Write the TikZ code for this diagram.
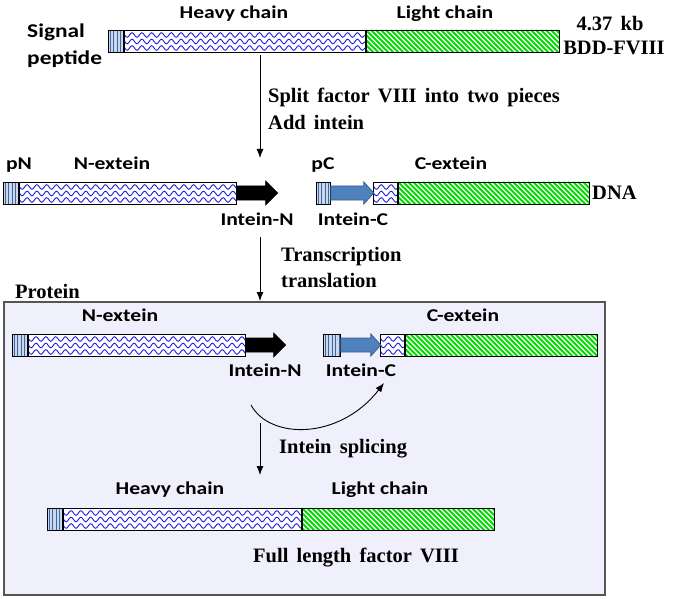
\documentclass[tikz,border=0pt]{standalone}
\usepackage{fontspec}
\setmainfont{Liberation Serif}[WordSpace=1.6]
\newfontfamily\calw[FakeStretch=1.2]{Carlito}
\usetikzlibrary{decorations.pathmorphing,arrows.meta}
\definecolor{spfill}{RGB}{198,217,241}
\definecolor{spline}{RGB}{70,100,150}
\definecolor{wave}{RGB}{30,30,225}
\definecolor{gstripe}{RGB}{0,220,0}
\definecolor{boxfill}{RGB}{240,240,252}
\definecolor{boxline}{RGB}{85,85,85}
\definecolor{ablue}{RGB}{79,129,189}
\definecolor{ablueline}{RGB}{56,93,138}
\tikzset{
 seg/.style={draw=black, line width=0.8pt, rectangle, inner sep=0pt, minimum height=22pt, anchor=west},
 sigpep/.style={seg, fill=spfill, path picture={
   \foreach \i in {1.5,5,...,30}
     \draw[spline, line width=0.6pt] ([xshift=\i pt]path picture bounding box.north west) -- ([xshift=\i pt]path picture bounding box.south west);}},
 wavy/.style={seg, fill=white, path picture={
   \foreach \r in {5,11.5,18}
     \draw[wave, line width=0.9pt, decorate, decoration={snake, segment length=9.8pt, amplitude=2.3pt}]
       ([xshift=-5pt,yshift=-\r pt]path picture bounding box.north west) -- ([xshift=5pt,yshift=-\r pt]path picture bounding box.north east);}},
 hatch/.style={seg, fill=white, path picture={
   \foreach \i in {-30,-25,...,200}
     \draw[gstripe, line width=2pt] ([xshift=\i pt]path picture bounding box.north west) -- ++(30pt,-30pt);}},
 inteinN/.style={fill=black, draw=black, line width=0.6pt},
 inteinC/.style={fill=ablue, draw=ablueline, line width=0.8pt},
 sl/.style={font=\calw\bfseries\fontsize{18}{20}\selectfont, inner sep=0pt, anchor=base},
 tl/.style={font=\bfseries\fontsize{20.5}{22}\selectfont, inner sep=0pt, anchor=base west},
 tc/.style={font=\bfseries\fontsize{20.5}{22}\selectfont, inner sep=0pt, anchor=base},
 conn/.style={line width=0.9pt, -{Latex[length=9pt,width=7pt]}},
 protbox/.style={draw=boxline, line width=1.8pt, fill=boxfill}
}
\begin{document}
\begin{tikzpicture}[x=1pt,y=-1pt]
\useasboundingbox (0,0) rectangle (675,599);
% protein box
\draw[protbox] (4,302) rectangle (605,595);

% Row 1
\node[sigpep, minimum width=15pt] (sp1) at (108,41) {};
\node[wavy, minimum width=241pt] (hc1) at (sp1.east) {};
\node[hatch, minimum width=193pt] (lc1) at (hc1.east) {};
\node[sl] (hc1t) at (234,19) {Heavy chain};
\node[sl] (lc1t) at (445,19) {Light chain};
\node[sl, anchor=base west, font=\calw\bfseries\fontsize{19.5}{21}\selectfont] (sig) at (27,38) {Signal};
\node[sl, anchor=base west, font=\calw\bfseries\fontsize{19.5}{21}\selectfont] (pep) at (27,65) {peptide};
\node[tc] (kb) at (610,31) {4.37 kb};
\node[tc] (bdd) at (614,55) {BDD-FVIII};

% Arrow 1
\coordinate (s1) at (260,55);
\coordinate (e1) at (260,158);
\draw[conn] (s1) -- (e1);
\node[tl] (split) at (268,103) {Split factor VIII into two pieces};
\node[tl] (add) at (268,130) {Add intein};

% Row 2
\node[sigpep, minimum width=15pt] (spN2) at (3,193) {};
\node[wavy, minimum width=217pt] (nx2) at (spN2.east) {};
\filldraw[inteinN] (nx2.east) ++(0,-7) -- ++(29,0) -- ++(0,-5) -- ++(12,12) -- ++(-12,12) -- ++(0,-5) -- ++(-29,0) -- cycle;
\node[sigpep, minimum width=14pt] (spC2) at (316,193) {};
\node[wavy, minimum width=24pt] (cx2w) at (373,193) {};
\node[hatch, minimum width=191pt] (cx2g) at (cx2w.east) {};
\filldraw[inteinC] (spC2.east) ++(0,-7) -- ++(33,0) -- ++(0,-4) -- ++(10,11) -- ++(-10,11) -- ++(0,-4) -- ++(-33,0) -- cycle;
\node[sl] (pN) at (19,170) {pN};
\node[sl] (nx2t) at (112,170) {N-extein};
\node[sl] (pC) at (323,170) {pC};
\node[sl] (cx2t) at (451,170) {C-extein};
\node[tl] (dna) at (592,200) {DNA};
\node[sl] (in2) at (257,225) {Intein-N};
\node[sl] (ic2) at (353,225) {Intein-C};

% Arrow 2
\coordinate (s2) at (260,237);
\coordinate (e2) at (260,301);
\draw[conn] (s2) -- (e2);
\node[tl] (trans) at (281,261) {Transcription};
\node[tl] (transl) at (281,287) {translation};
\node[tl] (prot) at (15,298) {Protein};

% Row 3
\node[sigpep, minimum width=15pt] (spN3) at (12,345) {};
\node[wavy, minimum width=217pt] (nx3) at (spN3.east) {};
\filldraw[inteinN] (nx3.east) ++(0,-7) -- ++(28,0) -- ++(0,-5) -- ++(12,12) -- ++(-12,12) -- ++(0,-5) -- ++(-28,0) -- cycle;
\node[sigpep, minimum width=17pt] (spC3) at (323,345) {};
\node[wavy, minimum width=24pt] (cx3w) at (380,345) {};
\node[hatch, minimum width=192pt] (cx3g) at (cx3w.east) {};
\filldraw[inteinC] (spC3.east) ++(0,-7) -- ++(30,0) -- ++(0,-4) -- ++(10,11) -- ++(-10,11) -- ++(0,-4) -- ++(-30,0) -- cycle;
\node[sl] (nx3t) at (120,321) {N-extein};
\node[sl] (cx3t) at (463,321) {C-extein};
\node[sl] (in3) at (265,376) {Intein-N};
\node[sl] (ic3) at (361,376) {Intein-C};

% splicing curve
\coordinate (c1) at (251,405);
\coordinate (c2) at (384,383);
\draw[conn] (c1) .. controls (270,440) and (340,440) .. (c2);

% Arrow 3
\coordinate (s3) at (260,423);
\coordinate (e3) at (260,475);
\draw[conn] (s3) -- (e3);
\node[tl] (spl) at (279,453) {Intein splicing};

% Row 4
\node[sigpep, minimum width=15pt] (sp4) at (47,519) {};
\node[wavy, minimum width=238pt] (hc4) at (sp4.east) {};
\node[hatch, minimum width=192pt] (lc4) at (hc4.east) {};
\node[sl] (hc4t) at (170,494) {Heavy chain};
\node[sl] (lc4t) at (380,494) {Light chain};
\node[tl] (full) at (253,562) {Full length factor VIII};
\end{tikzpicture}
\end{document}
